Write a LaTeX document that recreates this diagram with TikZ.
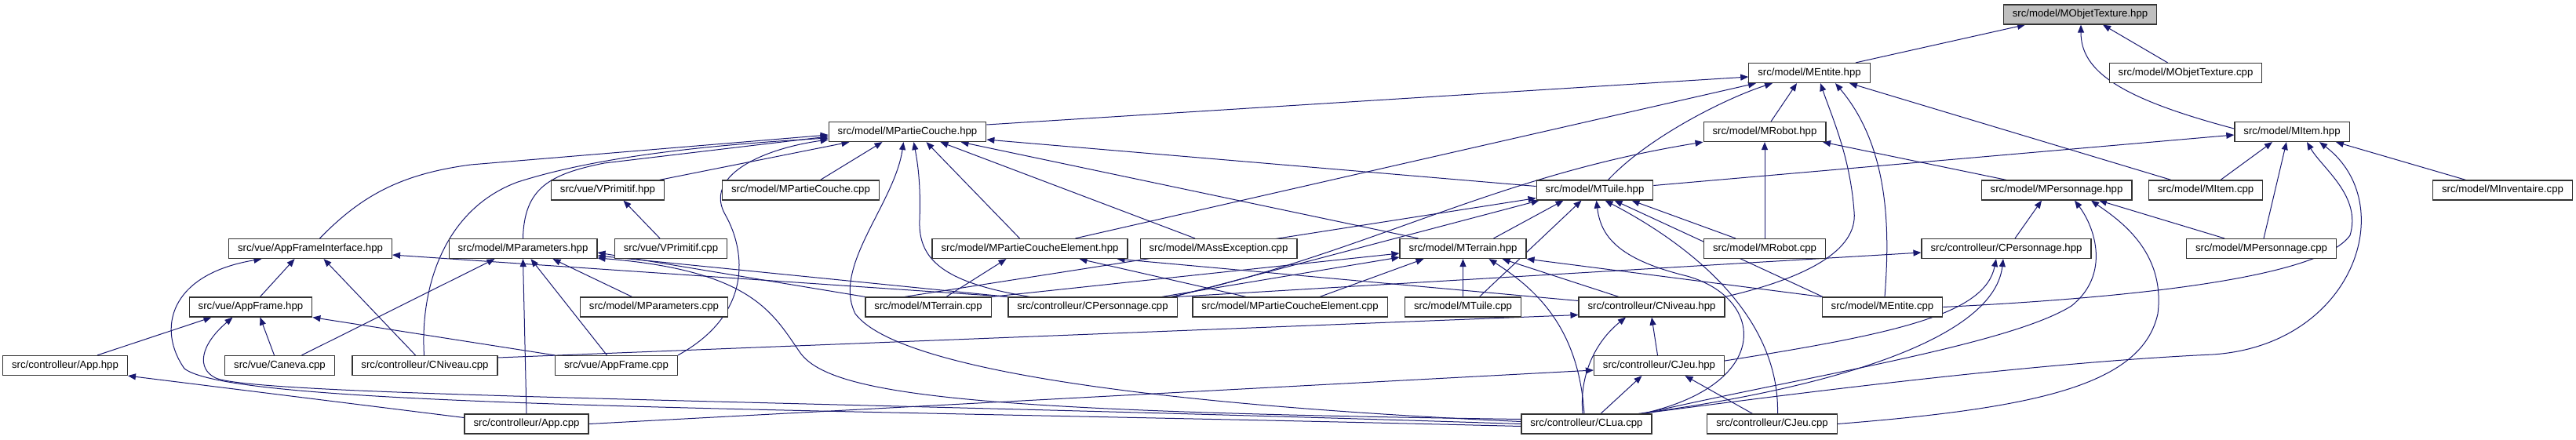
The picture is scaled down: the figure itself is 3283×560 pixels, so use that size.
\documentclass[tikz,border=0pt]{standalone}
\usepackage{fontspec}
\newfontfamily\filefont{Liberation Sans}
\usetikzlibrary{arrows.meta}
\definecolor{edgeblue}{HTML}{191970}
\pgfdeclarelayer{background}
\pgfsetlayers{background,main}

\begin{document}
\begin{tikzpicture}[x=1pt,y=-1pt,
    file/.style={draw=black!80, fill=white, line width=1.2pt,
      font=\filefont\fontsize{13.2}{15}\selectfont,
      inner xsep=11.5pt, inner ysep=0pt, minimum height=25pt},
    root/.style={file, fill=black!25},
    dep/.style={draw=edgeblue, line width=1pt, -{Triangle[length=10pt,width=8pt]}}]
    \useasboundingbox (0,0) rectangle (3283,560);
    % row 0 and 1
    \node[root] (OTh) at (2651,18.5) {src/model/MObjetTexture.hpp};
    \node[file] (Eh)  at (2306,93)   {src/model/MEntite.hpp};
    \node[file] (OTc) at (2785.5,93) {src/model/MObjetTexture.cpp};
    % row 2
    \node[file] (PCh) at (1156.5,168) {src/model/MPartieCouche.hpp};
    \node[file] (Rh)  at (2249,168)   {src/model/MRobot.hpp};
    \node[file] (Ih)  at (2921,168)   {src/model/MItem.hpp};
    % row 3
    \node[file] (VPh)  at (774.5,242.5)  {src/vue/VPrimitif.hpp};
    \node[file] (PCc)  at (1020.5,242.5) {src/model/MPartieCouche.cpp};
    \node[file] (Th)   at (2032.5,242.5) {src/model/MTuile.hpp};
    \node[file] (Ph)   at (2621,242.5)   {src/model/MPersonnage.hpp};
    \node[file] (Ic)   at (2811,242.5)   {src/model/MItem.cpp};
    \node[file] (Invc) at (3189.5,242.5) {src/model/MInventaire.cpp};
    % row 4
    \node[file] (AFIh) at (395.5,317)  {src/vue/AppFrameInterface.hpp};
    \node[file] (Parh) at (666.5,317)  {src/model/MParameters.hpp};
    \node[file] (VPc)  at (855,317)    {src/vue/VPrimitif.cpp};
    \node[file] (PCEh) at (1312.5,317) {src/model/MPartieCoucheElement.hpp};
    \node[file] (AEc)  at (1553,317)   {src/model/MAssException.cpp};
    \node[file] (Terh) at (1864.5,317) {src/model/MTerrain.hpp};
    \node[file] (Rc)   at (2249,317)   {src/model/MRobot.cpp};
    \node[file] (CPh)  at (2557,317)   {src/controlleur/CPersonnage.hpp};
    \node[file] (Pc)   at (2882,317)   {src/model/MPersonnage.cpp};
    % row 5
    \node[file] (AFh)  at (319.5,391.5)  {src/vue/AppFrame.hpp};
    \node[file] (Parc) at (833.5,391.5)  {src/model/MParameters.cpp};
    \node[file] (Terc) at (1183,391.5)   {src/model/MTerrain.cpp};
    \node[file] (CPc)  at (1392.5,391.5) {src/controlleur/CPersonnage.cpp};
    \node[file] (PCEc) at (1644,391.5)   {src/model/MPartieCoucheElement.cpp};
    \node[file] (Tc)   at (1864.5,391.5) {src/model/MTuile.cpp};
    \node[file] (CNh)  at (2105,391.5)   {src/controlleur/CNiveau.hpp};
    \node[file] (Ec)   at (2399,391.5)   {src/model/MEntite.cpp};
    % row 6 and 7
    \node[file] (Apph) at (83,466)     {src/controlleur/App.hpp};
    \node[file] (Canc) at (356.5,466)  {src/vue/Caneva.cpp};
    \node[file] (CNc)  at (541.5,466)  {src/controlleur/CNiveau.cpp};
    \node[file] (AFc)  at (785.5,466)  {src/vue/AppFrame.cpp};
    \node[file] (CJh)  at (2114.5,466) {src/controlleur/CJeu.hpp};
    \node[file] (Appc) at (671,540.5)  {src/controlleur/App.cpp};
    \node[file] (CLc)  at (2022,540.5) {src/controlleur/CLua.cpp};
    \node[file] (CJc)  at (2258.5,540.5) {src/controlleur/CJeu.cpp};

    \begin{pgfonlayer}{background}
    % into MObjetTexture.hpp, MEntite.hpp
    \draw[dep] ([xshift=59]Eh.north) -- ([xshift=-70]OTh.south);
    \draw[dep] ([xshift=-23]OTc.north) -- ([xshift=29]OTh.south);
    \draw[dep] ([yshift=4]Ih.west) .. controls (2700,125) and (2652,90) .. ([xshift=1]OTh.south);
    \draw[dep] ([yshift=9]PCh.east) -- ([yshift=-5]Eh.west);
    \draw[dep] ([xshift=58]PCEh.north) -- ([xshift=-68]Eh.south);
    \draw[dep] ([xshift=17]Th.north) .. controls (2100,175) and (2200,125) .. ([xshift=-47]Eh.south);
    \draw[dep] ([xshift=8]Rh.north) -- ([xshift=-16]Eh.south);
    \draw[dep] (CNh.north east) .. controls (2300,355) and (2368,320) .. (2363,270)
      .. controls (2358,200) and (2335,150) .. ([xshift=14]Eh.south);
    \draw[dep] ([xshift=3]Ec.north) .. controls (2408,300) and (2410,190) .. ([xshift=33]Eh.south);
    \draw[dep] ([xshift=-44]Ic.north) -- ([xshift=51]Eh.south);
    % MItem.hpp, MRobot.hpp, MPersonnage.hpp
    \draw[dep] ([yshift=6]Th.east) -- ([yshift=-4]Ih.west);
    \draw[dep] ([xshift=19]Ic.north) -- ([xshift=-25]Ih.south);
    \draw[dep] ([xshift=3]Pc.north) -- ([xshift=-7]Ih.south);
    \draw[dep] ([xshift=-47]Invc.north) -- ([xshift=56]Ih.south);
    \draw[dep] (Ec.east) .. controls (2750,378) and (2960,350) .. (2995,300)
      .. controls (3010,250) and (2960,215) .. ([xshift=19]Ih.south);
    \draw[dep] ([xshift=70]CLc.north) .. controls (2300,500) and (2600,462) .. (2820,452)
      .. controls (3000,440) and (3060,260) .. ([xshift=35]Ih.south);
    \draw[dep] ([xshift=-64]Ph.north) -- ([xshift=74]Rh.south);
    \draw[dep] (Rc.north) -- (Rh.south);
    \draw[dep] ([xshift=-8]CPc.north east) .. controls (1750,320) and (1900,225) .. (Rh.south west);
    \draw[dep] ([xshift=-47]Pc.north) -- ([xshift=54]Ph.south);
    \draw[dep] ([xshift=11]CPh.north) -- ([xshift=-19]Ph.south);
    \draw[dep] ([xshift=72]CLc.north) .. controls (2300,480) and (2560,440) .. (2640,390)
      .. controls (2690,350) and (2670,290) .. ([xshift=23]Ph.south);
    \draw[dep] (CJc.east) .. controls (2600,520) and (2730,490) .. (2750,400)
      .. controls (2760,320) and (2700,280) .. ([xshift=44]Ph.south);
    % CPersonnage.hpp
    \draw[dep] ([yshift=6]CJh.east) .. controls (2420,425) and (2530,400) .. ([xshift=-13]CPh.south);
    \draw[dep] ([xshift=66]CLc.north) .. controls (2300,500) and (2540,440) .. ([xshift=-4]CPh.south);
    \draw[dep] (CPc.north east) -- ([yshift=-5]CPh.west);
    % MTuile.hpp
    \draw[dep] ([xshift=-37]Rc.north) -- ([xshift=47]Th.south);
    \draw[dep] ([xshift=-76]Ec.north) -- ([xshift=25]Th.south);
    \draw[dep] ([xshift=7]CJc.north) .. controls (2268,400) and (2150,310) .. ([xshift=13]Th.south);
    \draw[dep] ([xshift=71]CLc.north) .. controls (2260,490) and (2250,380) .. (2150,352)
      .. controls (2060,330) and (2040,300) .. ([xshift=2]Th.south);
    \draw[dep] ([xshift=39]Terh.north) -- ([xshift=-40]Th.south);
    \draw[dep] ([xshift=21]Tc.north) -- ([xshift=-17]Th.south);
    \draw[dep] ([xshift=-30]Terc.north) -- ([yshift=3]Th.south west);
    \draw[dep] ([xshift=-5]CPc.north east) -- ([xshift=4]Th.south west);
    % MTerrain.hpp
    \draw[dep] (Terc.north east) -- ([yshift=-6]Terh.west);
    \draw[dep] ([xshift=-20]CPc.north east) -- ([yshift=-11]Terh.west);
    \draw[dep] ([xshift=38]PCEc.north) -- ([xshift=-50]Terh.south);
    \draw[dep] (Tc.north) -- (Terh.south);
    \draw[dep] ([xshift=-3]CLc.north) .. controls (2012,420) and (1960,370) .. ([xshift=33]Terh.south);
    \draw[dep] ([xshift=-42]CNh.north) -- ([xshift=50]Terh.south);
    \draw[dep] (Ec.north west) -- (Terh.south east);
    % MPartieCoucheElement.hpp
    \draw[dep] ([xshift=23]Terc.north) -- ([xshift=-30]PCEh.south);
    \draw[dep] ([xshift=-56]PCEc.north) -- ([xshift=63]PCEh.south);
    \draw[dep] ([yshift=8]CNh.west) -- ([xshift=-14]PCEh.south east);
    % MPartieCouche.hpp
    \draw[dep] ([yshift=5]Th.west) -- ([yshift=-10]PCh.east);
    \draw[dep] ([xshift=-57]Terh.north) -- ([xshift=68]PCh.south);
    \draw[dep] ([xshift=-30]AEc.north) -- ([xshift=42]PCh.south);
    \draw[dep] ([xshift=-13]PCEh.north) -- ([xshift=24]PCh.south);
    \draw[dep] ([xshift=25]PCc.north) -- ([xshift=-32]PCh.south);
    \draw[dep] ([xshift=66]VPh.north) -- ([xshift=-74]PCh.south);
    \draw[dep] ([xshift=12]AFIh.north) .. controls (460,250) and (510,222) .. (600,210) -- ([yshift=-4]PCh.west);
    \draw[dep] ([xshift=-1]CNc.north) .. controls (535,360) and (570,265) .. (660,232)
      .. controls (760,200) and (900,185) .. ([yshift=-8]PCh.west);
    \draw[dep] (Parh.north) .. controls (668,240) and (700,222) .. (770,208) -- ([yshift=-6]PCh.west);
    \draw[dep] (AFc.north east) .. controls (960,400) and (950,320) .. (925,275)
      .. controls (895,225) and (970,190) .. ([yshift=-10]PCh.west);
    \draw[dep] ([xshift=-80]CPc.north) .. controls (1200,360) and (1170,330) .. (1172,280)
      .. controls (1174,230) and (1168,200) .. ([xshift=8]PCh.south);
    \draw[dep] ([yshift=3]CLc.west) .. controls (1550,520) and (1150,480) .. (1090,400)
      .. controls (1060,340) and (1140,260) .. ([xshift=-5]PCh.south);
    % MParameters.hpp, VPrimitif.hpp
    \draw[dep] ([xshift=28]Canc.north) -- ([xshift=-36]Parh.south);
    \draw[dep] (Appc.north) -- (Parh.south);
    \draw[dep] ([xshift=-12]AFc.north) -- ([xshift=10]Parh.south);
    \draw[dep] ([xshift=-28]Parc.north) -- ([xshift=38]Parh.south);
    \draw[dep] (Terc.north west) -- ([yshift=-5]Parh.east);
    \draw[dep] (CPc.north west) -- ([yshift=-9]Parh.east);
    \draw[dep] ([yshift=6]CLc.west) .. controls (1250,525) and (1060,505) .. (1020,450)
      .. controls (985,400) and (960,345) .. ([yshift=-12]Parh.east);
    \draw[dep] ([xshift=-14]VPc.north) -- ([xshift=20]VPh.south);
    % AppFrameInterface.hpp, AppFrame.hpp, App.hpp
    \draw[dep] (CPc.north west) -- ([yshift=-8]AFIh.east);
    \draw[dep] ([xshift=12]AFh.north) -- ([xshift=-20]AFIh.south);
    \draw[dep] ([xshift=-12]CNc.north) -- ([xshift=17]AFIh.south);
    \draw[dep] ([yshift=-3]CLc.west) .. controls (1000,520) and (300,520) .. (235,470)
      .. controls (200,420) and (215,350) .. ([xshift=-62]AFIh.south);
    \draw[dep] ([xshift=41]Apph.north) -- ([xshift=-50]AFh.south);
    \draw[dep] ([xshift=-7]Canc.north) -- ([xshift=12]AFh.south);
    \draw[dep] (AFc.north west) -- (AFh.south east);
    \draw[dep] (CLc.west) .. controls (1000,510) and (330,505) .. (275,482)
      .. controls (250,470) and (255,440) .. ([xshift=-23]AFh.south);
    \draw[dep] ([yshift=8]Appc.west) -- (Apph.south east);
    % controller headers
    \draw[dep] ([yshift=10]CNc.east) -- ([yshift=-10]CNh.west);
    \draw[dep] ([xshift=-2]CJh.north) -- (CNh.south);
    \draw[dep] ([xshift=-5]CLc.north) .. controls (2012,470) and (2040,430) .. ([xshift=-33]CNh.south);
    \draw[dep] (Appc.east) -- ([yshift=-6]CJh.west);
    \draw[dep] ([xshift=18]CLc.north) -- ([xshift=-22]CJh.south);
    \draw[dep] ([xshift=-25]CJc.north) -- ([xshift=33]CJh.south);
    \end{pgfonlayer}
\end{tikzpicture}
\end{document}
